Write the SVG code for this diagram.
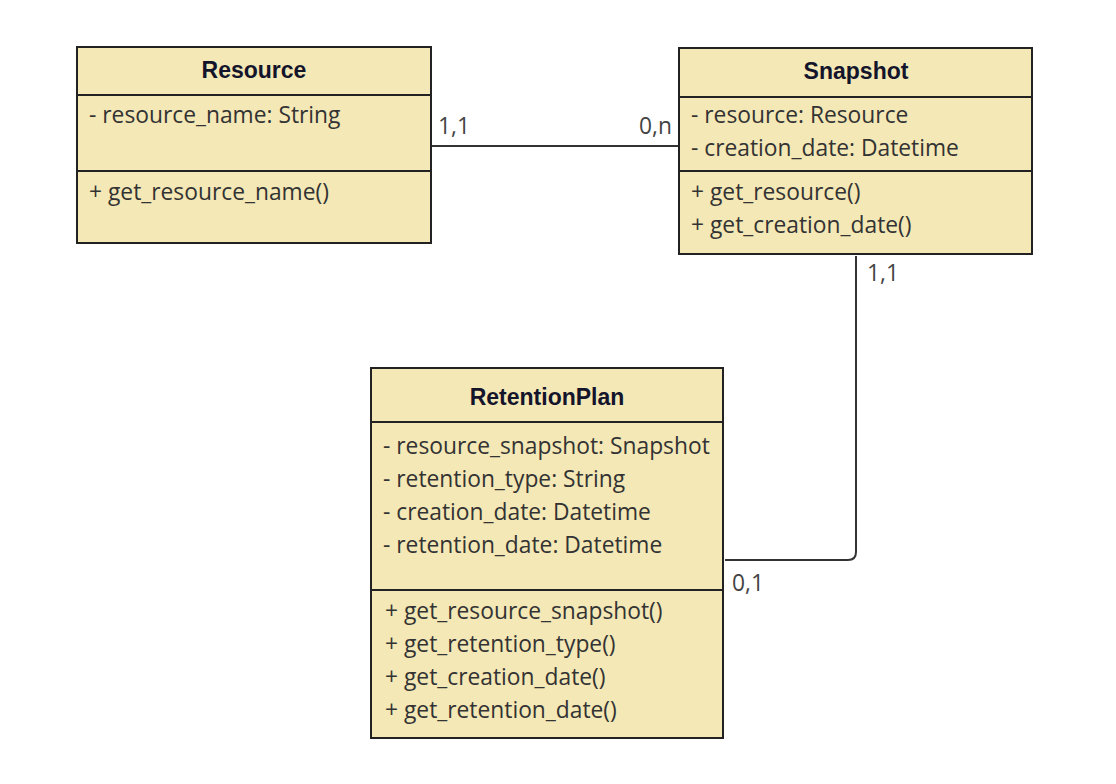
<svg xmlns="http://www.w3.org/2000/svg" width="1116" height="784" viewBox="0 0 1116 784">
<style>
.box{fill:#f4e8b6;stroke:#222;stroke-width:2}
.ln{stroke:#222;stroke-width:2;fill:none}
.h{font-family:"Liberation Sans",Arial,sans-serif;font-weight:bold;font-size:23px;fill:#14142b;text-anchor:middle}
.t{font-family:"Open Sans","Noto Sans",sans-serif;font-size:22.8px;fill:#333}
.c{stroke:#333;stroke-width:2;fill:none}
.m{font-family:"Open Sans","Noto Sans",sans-serif;font-size:22.8px;fill:#444}
</style>
<rect width="1116" height="784" fill="#fff"/>
<g id="connectors">
<path class="c" d="M431 146H679"/>
<path class="c" d="M856 256V552Q856 560 848 560H725"/>
<text class="m" x="438" y="134">1,1</text>
<text class="m" x="672" y="134" text-anchor="end">0,n</text>
<text class="m" x="867" y="281">1,1</text>
<text class="m" x="732" y="591">0,1</text>
</g>
<g id="Resource">
<rect class="box" x="77" y="47" width="354" height="196"/>
<path class="ln" d="M77 95H431M77 171H431"/>
<text class="h" x="254" y="78">Resource</text>
<text class="t" x="89" y="123">- resource_name: String</text>
<text class="t" x="89" y="200">+ get_resource_name()</text>
</g>
<g id="Snapshot">
<rect class="box" x="679" y="48" width="353" height="206"/>
<path class="ln" d="M679 97H1032M679 171H1032"/>
<text class="h" x="856" y="79">Snapshot</text>
<text class="t" x="691" y="123">- resource: Resource</text>
<text class="t" x="691" y="156">- creation_date: Datetime</text>
<text class="t" x="691" y="200">+ get_resource()</text>
<text class="t" x="691" y="233">+ get_creation_date()</text>
</g>
<g id="RetentionPlan">
<rect class="box" x="371" y="368" width="352" height="370"/>
<path class="ln" d="M371 422H723M371 590H723"/>
<text class="h" x="547" y="405">RetentionPlan</text>
<text class="t" x="383" y="454">- resource_snapshot: Snapshot</text>
<text class="t" x="383" y="487">- retention_type: String</text>
<text class="t" x="383" y="520">- creation_date: Datetime</text>
<text class="t" x="383" y="553">- retention_date: Datetime</text>
<text class="t" x="385" y="619">+ get_resource_snapshot()</text>
<text class="t" x="385" y="652">+ get_retention_type()</text>
<text class="t" x="385" y="685">+ get_creation_date()</text>
<text class="t" x="385" y="718">+ get_retention_date()</text>
</g>
</svg>
